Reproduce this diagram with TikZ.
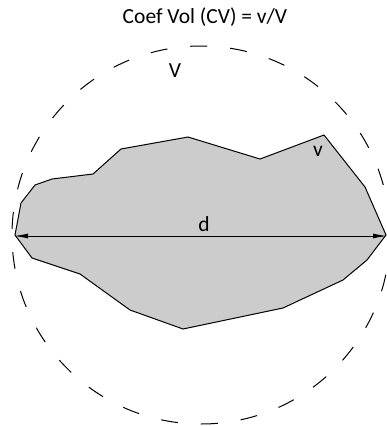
\documentclass[tikz,border=0pt]{standalone}
\usepackage{fontspec}
\setmainfont{Carlito}
\usetikzlibrary{arrows.meta}
\begin{document}
\begin{tikzpicture}[x=1pt,y=-1pt,
  lbl/.style={inner sep=0pt, font=\fontsize{21.5}{24}\selectfont},
  outline/.style={draw=black, line width=1pt, fill=black!20, line join=miter},
  envelope/.style={draw=black, line width=1pt, dash pattern=on 17pt off 23pt},
  diam/.style={draw=black, line width=1pt, {Latex[length=14pt,width=5pt]}-{Latex[length=14pt,width=5pt]}}]
\useasboundingbox (0,0) rectangle (387,426);
\draw[outline] (15,235) -- (21,203) -- (35,185) -- (52,179) -- (93,174) -- (121,149) -- (188,137) -- (260,159) -- (324,135) -- (365,187) -- (386,235) -- (367,260) -- (343,280) -- (283,308) -- (183,329) -- (130,310) -- (80,274) -- (32,258) -- cycle;
\draw[envelope] (201,235) circle (189);
\coordinate (dl) at (14,236);
\coordinate (dr) at (387,236);
\draw[diam] (dl) -- (dr);
\node[lbl] (title) at (205,17) {Coef Vol (CV) = v/V};
\node[lbl] (Vl) at (175,71) {V};
\node[lbl] (vl) at (318,151) {v};
\node[lbl] (dlab) at (204,224) {d};
\end{tikzpicture}
\end{document}
